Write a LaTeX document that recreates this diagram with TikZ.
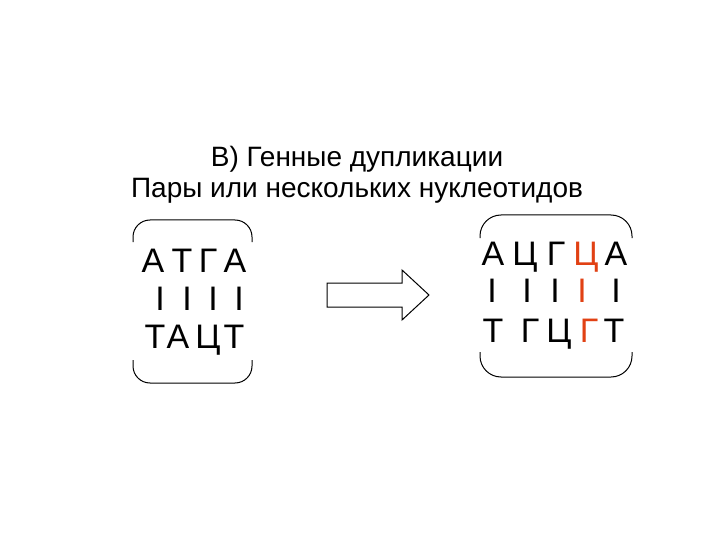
\documentclass[tikz,border=0pt]{standalone}
\usepackage{fontspec}
\setmainfont{Liberation Sans}
\usetikzlibrary{positioning}
\definecolor{myred}{RGB}{225,65,20}
\tikzstyle{mytitle}=[inner sep=0pt,anchor=base,font=\fontsize{28}{32}\selectfont]
\tikzstyle{mybase}=[inner sep=0pt,anchor=base,font=\fontsize{34}{38}\selectfont,#1]
\tikzstyle{mybracket}=[draw,black,line width=1pt,rounded corners=17pt]

\begin{document}
\begin{tikzpicture}[x=1pt,y=-1pt]
  \useasboundingbox (0,0) rectangle (720,540);

  % TITLE
  \node[mytitle] (t1) at (357,167) {В) Генные дупликации};
  \node[mytitle] (t2) at (357,198) {Пары или нескольких нуклеотидов};

  % LEFT BOX
  \foreach \x/\c [count=\i] in {153/А,182/Т,208/Г,235/А}
    \node[mybase=black] (l1-\i) at (\x,272) {\c};
  \foreach \x [count=\i] in {160,187,213,239}
    \node[mybase=black] (l2-\i) at (\x,310) {I};
  \foreach \x/\c [count=\i] in {155/Т,178/А,208/Ц,234/Т}
    \node[mybase=black] (l3-\i) at (\x,348) {\c};
  \draw[mybracket] (133,242) |- (252,220) -- (252,242);
  \draw[mybracket] (133,360) |- (252,383) -- (252,360);

  % ARROW
  \draw[line width=1pt,line join=miter] (327,283) -- (402,283) -- (402,270)
    -- (429,295) -- (402,320) -- (402,307) -- (327,307) -- cycle;

  % RIGHT BOX
  \foreach \x/\c/\col [count=\i] in {493/А/black,525/Ц/black,556/Г/black,586/Ц/myred,616/А/black}
    \node[mybase=\col] (r1-\i) at (\x,265) {\c};
  \foreach \x/\col [count=\i] in {492/black,527/black,555/black,582/myred,616/black}
    \node[mybase=\col] (r2-\i) at (\x,302) {I};
  \foreach \x/\c/\col [count=\i] in {493/Т/black,530/Г/black,559/Ц/black,589/Г/myred,614/Т/black}
    \node[mybase=\col] (r3-\i) at (\x,342) {\c};
  \draw[mybracket,rounded corners=21pt] (480,238) |- (632,215) -- (632,238);
  \draw[mybracket,rounded corners=21pt] (480,352) |- (632,377) -- (632,352);

\end{tikzpicture}
\end{document}
